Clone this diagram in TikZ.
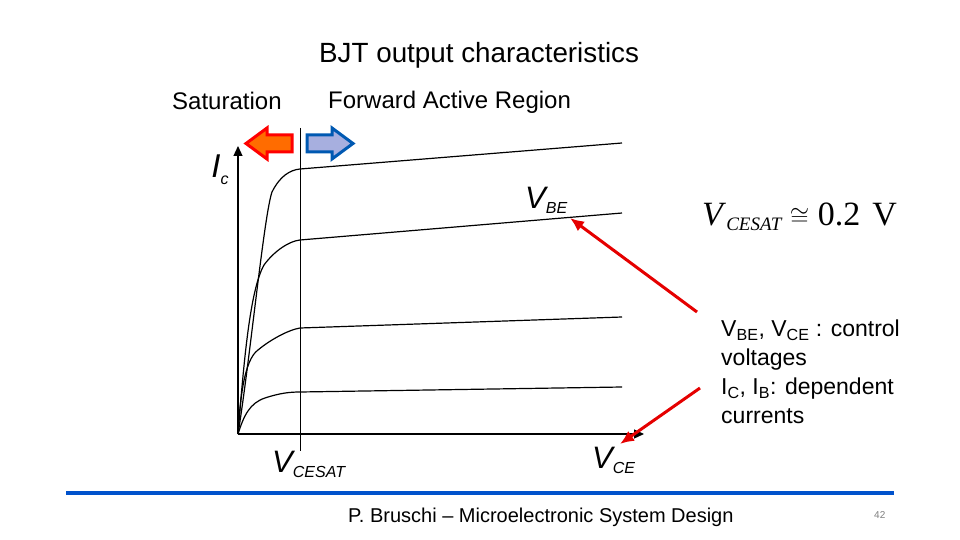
\documentclass[tikz,border=0pt]{standalone}
\usepackage{fontspec}
\setmainfont{Liberation Sans}
\newfontfamily\serifx{Liberation Serif}
\begin{document}
\begin{tikzpicture}[x=1pt,y=-1pt,
  curve/.style={line width=1.2pt,black},
  redarr/.style={red!90!black,line width=3pt,-{Latex[length=14pt,width=12pt]}},
  lbl/.style={inner sep=0pt,anchor=base west,font=\fontsize{24}{28}\selectfont}]
\usetikzlibrary{arrows.meta}
\useasboundingbox (0,0) rectangle (960,540);
\node[lbl,font=\fontsize{27.8}{30}\selectfont] (title) at (319,63) {BJT output characteristics};
\node[lbl] (sat) at (172,110) {Saturation};
\node[lbl] (far) at (328,109) {Forward Active Region};
% block arrows
\filldraw[draw=red,fill=orange!85!red,line width=3pt]
 (292,135)--(267,135)--(267,128)--(246,143.5)--(267,159)--(267,152)--(292,152)--cycle;
\filldraw[draw=blue!50!cyan!70!black,fill=cyan!30!blue!35!white,line width=3pt]
 (307,135)--(332,135)--(332,128)--(353,143.5)--(332,159)--(332,152)--(307,152)--cycle;
% axes
\coordinate (O) at (238,434);
\coordinate (ytop) at (238,146);
\coordinate (xend) at (644,434);
\draw[line width=1.2pt,-{Triangle[length=10pt,width=9pt]}] (O)--(ytop);
\draw[line width=1.2pt,-{Triangle[length=10pt,width=9pt]}] (O)--(xend);
\coordinate (vt) at (300,128); \coordinate (vb) at (300,451);
\draw[line width=0.8pt] (vt)--(vb);
% curves
\draw[curve] (O) .. controls (250,360) and (264,215) .. (272,192) .. controls (280,176) and (290,170) .. (300,169) -- (622,143);
\draw[curve] (O) .. controls (244,360) and (250,290) .. (264,265) .. controls (275,250) and (290,241) .. (300,240) -- (622,213);
\draw[curve] (O) .. controls (240,400) and (244,360) .. (258,350) .. controls (270,340) and (288,330) .. (300,328) -- (622,317);
\draw[curve] (O) .. controls (244,415) and (250,403) .. (265,398) .. controls (280,393) and (290,392) .. (300,392) -- (622,387);
% labels
\node[inner sep=0pt,font=\fontsize{33}{33}\selectfont\itshape] (ic) at (220,170) {I\raisebox{-7pt}{\fontsize{16}{16}\selectfont c}};
\node[inner sep=0pt,anchor=base west,font=\fontsize{31}{31}\selectfont\itshape] (vbe) at (525,208) {V\raisebox{-5pt}{\fontsize{16}{16}\selectfont BE}};
\node[inner sep=0pt,anchor=base west,font=\fontsize{31}{31}\selectfont\itshape] (vcesat) at (272,472) {V\raisebox{-5pt}{\fontsize{16}{16}\selectfont CESAT}};
\node[inner sep=0pt,anchor=base west,font=\fontsize{31}{31}\selectfont\itshape] (vce) at (592,468) {V\raisebox{-5pt}{\fontsize{16}{16}\selectfont CE}};
\node[inner sep=0pt,anchor=base west,font=\serifx\fontsize{34}{34}\selectfont] (eq) at (702,225) {\textit{V}\raisebox{-5pt}{\fontsize{19}{19}\selectfont\itshape CESAT} $\cong$ 0.2\hspace{12pt}V};
\node[inner sep=0pt,anchor=north west,align=left,font=\fontsize{23}{29}\selectfont] (txt) at (721,320)
 {V\textsubscript{BE}, V\textsubscript{CE} : control\\voltages\\I\textsubscript{C}, I\textsubscript{B}: dependent\\currents};
\coordinate (a1s) at (697,312); \coordinate (a1e) at (570,218);
\coordinate (a2s) at (700,388); \coordinate (a2e) at (620,444);
\draw[redarr] (a1s)--(a1e);
\draw[redarr] (a2s)--(a2e);
% footer
\coordinate (f1) at (66,493); \coordinate (f2) at (894,493);
\draw[line width=4pt,blue!60!cyan!80!black] (f1)--(f2);
\node[lbl,font=\fontsize{20}{22}\selectfont] (foot) at (348,522) {P. Bruschi -- Microelectronic System Design};
\node[lbl,font=\fontsize{10}{12}\selectfont,text=gray] (num) at (874,518) {42};
\end{tikzpicture}
\end{document}
